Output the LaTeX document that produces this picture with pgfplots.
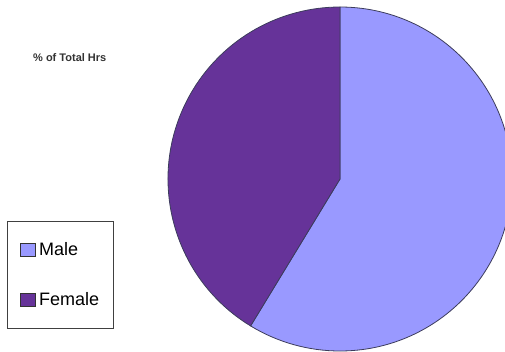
\documentclass[border=0pt]{standalone}
\usepackage{pgfplots}
\pgfplotsset{compat=1.18}
\usepackage{fontspec}
\setmainfont{Liberation Sans}
\definecolor{male}{HTML}{9999FF}
\definecolor{female}{HTML}{663399}
\definecolor{edge}{HTML}{3C3C5C}
% data: percent of total hours
\def\maleval{58.7}
\def\femaleval{41.3}
\begin{document}
\begin{tikzpicture}[x=1pt,y=1pt]
\path[use as bounding box] (0,0) rectangle (505,351);
\clip (0,0) rectangle (505,351);
\node[font=\bfseries\fontsize{11}{13}\selectfont, anchor=west, text=black!80, inner sep=0pt] at (33,293) {\% of Total Hrs};
\begin{axis}[
  at={(340,172)}, anchor=origin,
  hide axis, scale only axis, clip=false,
  width=344pt, height=344pt,
  xmin=-172, xmax=172, ymin=-172, ymax=172,
  legend style={at={(-0.4674,0.378)}, anchor=north west,
    draw=black!75, line width=0.8pt,
    font=\fontsize{18}{20}\selectfont,
    inner xsep=12pt, inner ysep=19pt, row sep=32pt, column sep=2pt,
    cells={anchor=west}},
  legend image code/.code={\filldraw[#1, draw=black!80, line width=0.5pt] (0pt,-6.5pt) rectangle (15pt,6.5pt);},
]
\pgfmathsetmacro{\mend}{90-3.6*\maleval}
\pgfmathsetmacro{\fend}{\mend-3.6*\femaleval}
\filldraw[fill=male, draw=edge, line width=0.8pt] (axis cs:0,0) -- (axis cs:0,172) arc[start angle=90, end angle=\mend, radius=172pt] -- cycle;
\filldraw[fill=female, draw=edge, line width=0.8pt] (axis cs:0,0) -- ({172*cos(\mend)},{172*sin(\mend)}) arc[start angle=\mend, end angle=\fend, radius=172pt] -- cycle;
\addlegendimage{fill=male}
\addlegendentry{Male}
\addlegendimage{fill=female}
\addlegendentry{Female\hspace{12pt}}
\end{axis}
\end{tikzpicture}
\end{document}
